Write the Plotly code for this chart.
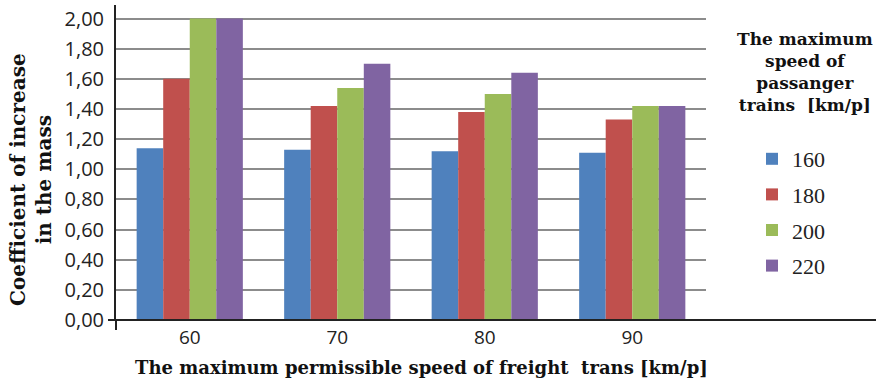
import plotly.graph_objects as go

# Freight train speed categories (x axis)
freight_speeds = ["60", "70", "80", "90"]

# Coefficient of increase in the mass, one series per passenger train speed
speed_160 = [1.14, 1.13, 1.12, 1.11]
speed_180 = [1.60, 1.42, 1.38, 1.33]
speed_200 = [2.00, 1.54, 1.50, 1.42]
speed_220 = [2.00, 1.70, 1.64, 1.42]

series_names = ["160", "180", "200", "220"]
series_values = [speed_160, speed_180, speed_200, speed_220]
series_colors = ["#4F81BD", "#C0504D", "#9BBB59", "#8064A2"]

y_ticks = [0.0, 0.2, 0.4, 0.6, 0.8, 1.0, 1.2, 1.4, 1.6, 1.8, 2.0]

TITLE_FONT = "DejaVu Serif"
SERIF = "Liberation Serif"
SANS = "Open Sans"

fig = go.Figure()
for name, vals, color in zip(series_names, series_values, series_colors):
    fig.add_trace(go.Bar(
        x=freight_speeds, y=vals, name=name, legendgroup=name,
        marker=dict(color=color, line=dict(width=0)),
    ))

W, H = 876, 386
ml, mr, mt, mb = 116, 170, 5, 66
plot_w = W - ml - mr
plot_h = H - mt - mb


def px_x(x):
    """Horizontal pixel position -> paper coordinate."""
    return (x - ml) / plot_w


def px_y(y):
    """Vertical pixel position (from top) -> paper coordinate."""
    return (H - mb - y) / plot_h


fig.update_layout(
    width=W, height=H,
    margin=dict(l=ml, r=mr, t=mt, b=mb, pad=0),
    paper_bgcolor="white", plot_bgcolor="white",
    barmode="group", bargap=0.28, bargroupgap=0,
    separators=",.",
    font=dict(family=SANS, color="#222222"),
    showlegend=True,
    legend=dict(
        x=px_x(752), xanchor="left",
        y=px_y(138), yanchor="top",
        font=dict(family=SERIF, size=22, color="#222222"),
        tracegroupgap=4, itemwidth=30,
        bgcolor="rgba(0,0,0,0)",
    ),
    xaxis=dict(
        showgrid=False, showline=False, ticks="",
        tickfont=dict(family=SANS, size=19, color="#222222"),
        ticklabelstandoff=4,
    ),
    yaxis=dict(
        range=[0, 2.09], tickvals=y_ticks, tickformat=".2f",
        showgrid=True, gridcolor="#8c8c8c", gridwidth=1.5,
        showline=True, linecolor="#222222", linewidth=2,
        ticks="", zeroline=False,
        ticklabelstandoff=6,
        tickfont=dict(family=SANS, size=20, color="#222222"),
    ),
)

# Category axis line running across the full width, with small overhangs
fig.add_shape(type="line", xref="paper", yref="paper",
              x0=px_x(108), x1=px_x(W), y0=0, y1=0,
              line=dict(color="#222222", width=2))
fig.add_shape(type="line", xref="paper", yref="paper",
              x0=0, x1=0, y0=0, y1=px_y(330),
              line=dict(color="#222222", width=2))

# Axis titles
fig.add_annotation(
    text="<b>The maximum permissible speed of freight\u00a0 trans [km/p]</b>",
    xref="paper", yref="paper", x=px_x(421), y=px_y(368),
    xanchor="center", yanchor="middle", showarrow=False,
    font=dict(family=TITLE_FONT, size=18, color="#111111"),
)
fig.add_annotation(
    text="<b>Coefficient of increase<br>in the mass</b>",
    xref="paper", yref="paper", x=px_x(31), y=px_y(180),
    xanchor="center", yanchor="middle", showarrow=False, textangle=-90,
    font=dict(family=TITLE_FONT, size=20, color="#111111"),
)

# Legend heading
fig.add_annotation(
    text="<b>The maximum<br>speed of<br>passanger<br>trains\u00a0 [km/p]</b>",
    xref="paper", yref="paper", x=px_x(805), y=px_y(27),
    xanchor="center", yanchor="top", showarrow=False, align="center",
    font=dict(family=TITLE_FONT, size=17, color="#111111"),
)

fig.write_html("out.html")
